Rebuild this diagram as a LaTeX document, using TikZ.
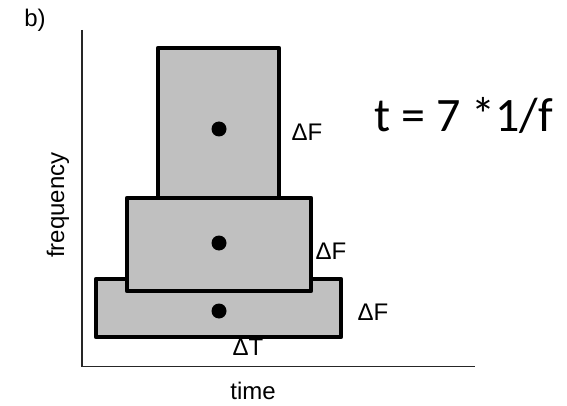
\documentclass[tikz,border=0pt]{standalone}
\usepackage{fontspec}
\setmainfont{Liberation Sans}
\newfontfamily\calib{Carlito}
\definecolor{boxgray}{RGB}{192,192,192}
\begin{document}
\begin{tikzpicture}[x=1pt,y=-1pt,
  blk/.style={draw=black,fill=boxgray,line width=4.5pt,line join=round},
  dotmark/.style={circle,fill=black,inner sep=0pt,minimum size=15pt},
  lbl/.style={inner sep=0pt,font=\fontsize{24}{26}\selectfont},
  axisline/.style={line width=1.5pt,draw=black!85}]
\useasboundingbox (0,0) rectangle (567,406);
% axes
\coordinate (ytop) at (82,30);
\coordinate (orig) at (82,366.5);
\coordinate (xend) at (475,366.5);
\draw[axisline] (ytop) -- (orig) -- (xend);
% labels
\node[lbl] (b) at (35,20) {b)};
\node[lbl,rotate=90] (freq) at (58,205) {frequency};
\node[lbl] (time) at (253,391) {time};
\node[lbl] (dT) at (248,347) {ΔT};
% boxes
\node[blk,minimum width=121pt,minimum height=150pt,inner sep=0pt] (top) at (218.5,123) {};
\node[blk,minimum width=245pt,minimum height=58pt,inner sep=0pt] (bot) at (218.5,308) {};
\node[blk,minimum width=184pt,minimum height=93pt,inner sep=0pt] (mid) at (219,244.5) {};
% dots
\node[dotmark] (d1) at (219,129) {};
\node[dotmark] (d2) at (219,243) {};
\node[dotmark] (d3) at (219,311) {};
% delta F labels
\node[lbl] (f1) at (307,132) {ΔF};
\node[lbl] (f2) at (331,251) {ΔF};
\node[lbl] (f3) at (373,312) {ΔF};
% formula
\node[anchor=base,inner sep=0pt,font=\calib\fontsize{48}{52}\selectfont] (eq) at (464,132) {t = 7 *1/f};
\end{tikzpicture}
\end{document}
